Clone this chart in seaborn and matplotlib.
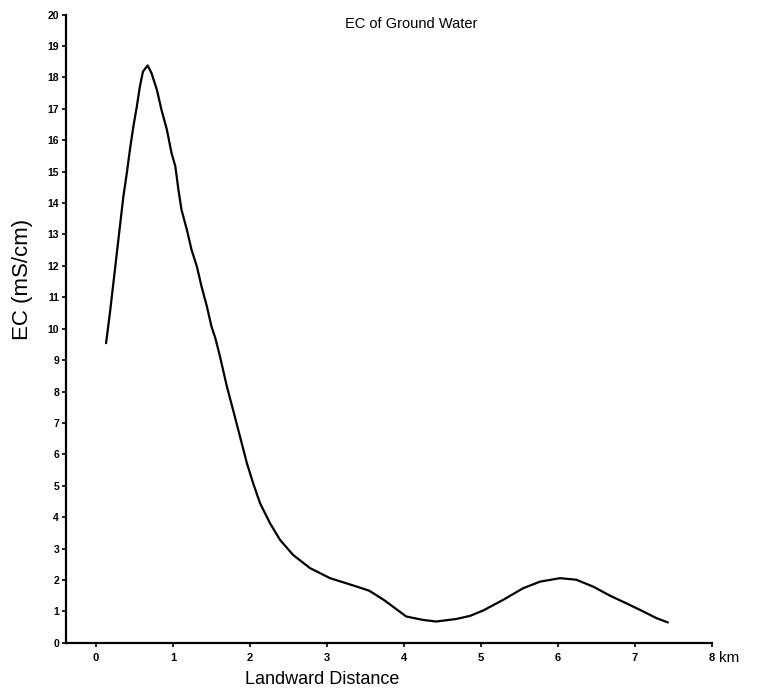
import matplotlib
matplotlib.use("Agg")
import matplotlib.pyplot as plt
import seaborn as sns
import pandas as pd

# Data
distance_km = [0.13, 0.18, 0.225, 0.27, 0.31, 0.355, 0.40, 0.44, 0.485, 0.53,
               0.57, 0.61, 0.67, 0.72, 0.79, 0.85, 0.92, 0.98, 1.03, 1.07,
               1.11, 1.18, 1.24, 1.31, 1.37, 1.44, 1.50, 1.55, 1.61, 1.70,
               1.78, 1.87, 1.96, 2.04, 2.13, 2.26, 2.39, 2.56, 2.78, 3.04,
               3.39, 3.55, 3.75, 4.03, 4.25, 4.42, 4.68, 4.86, 5.03, 5.29,
               5.55, 5.77, 6.03, 6.24, 6.46, 6.68, 6.89, 7.11, 7.28, 7.43]
ec_ms_cm = [9.54, 10.5, 11.45, 12.41, 13.26, 14.21, 14.96, 15.70, 16.44, 17.08,
            17.72, 18.19, 18.38, 18.14, 17.61, 16.97, 16.34, 15.60, 15.17, 14.43,
            13.79, 13.15, 12.52, 11.98, 11.35, 10.71, 10.07, 9.70, 9.12, 8.16,
            7.42, 6.57, 5.72, 5.09, 4.45, 3.81, 3.28, 2.80, 2.38, 2.06,
            1.79, 1.66, 1.35, 0.84, 0.73, 0.68, 0.76, 0.86, 1.03, 1.37,
            1.74, 1.95, 2.06, 2.01, 1.79, 1.50, 1.26, 1.00, 0.79, 0.65]
x_ticks = [0, 1, 2, 3, 4, 5, 6, 7, 8]
y_ticks = list(range(0, 21))
title_text = "EC of Ground Water"
x_label = "Landward Distance"
y_label = "EC (mS/cm)"
unit_label = "km"

df = pd.DataFrame({"distance": distance_km, "ec": ec_ms_cm})

sns.set_theme(style="ticks")
plt.rcParams["font.family"] = ["Liberation Sans", "DejaVu Sans"]

fig = plt.figure(figsize=(7.77, 6.95), dpi=100)
ax = fig.add_axes([0.085, 0.075, 0.831, 0.904])

sns.lineplot(data=df, x="distance", y="ec", ax=ax, color="black",
             linewidth=1.6, sort=False)

ax.set_xlim(-0.39, 8.0)
ax.set_ylim(0, 20)
ax.set_xticks(x_ticks)
ax.set_yticks(y_ticks)
ax.set_xticklabels([str(t) for t in x_ticks], fontsize=8, fontweight="bold")
ax.set_yticklabels([str(t) for t in y_ticks], fontsize=7.5, fontweight="bold")
ax.tick_params(axis="both", direction="out", length=3, width=1.2, color="black",
               labelcolor="black", pad=2)
ax.tick_params(axis="x", pad=4)

for side in ["top", "right"]:
    ax.spines[side].set_visible(False)
for side in ["left", "bottom"]:
    ax.spines[side].set_linewidth(1.6)
    ax.spines[side].set_color("black")

ax.set_xlabel("")
ax.set_ylabel("")
ax.text(0.534, 0.985, title_text, transform=ax.transAxes, ha="center",
        va="center", fontsize=10.5, color="black")
ax.text(0.396, -0.058, x_label, transform=ax.transAxes, ha="center",
        va="center", fontsize=13, color="black")
ax.text(-0.068, 0.578, y_label, transform=ax.transAxes, ha="center",
        va="center", fontsize=16, rotation=90, color="black")
ax.annotate(unit_label, xy=(8, 0), xycoords="data", xytext=(5, -11),
            textcoords="offset points", ha="left", va="center", fontsize=11,
            color="black")

fig.savefig("out.png", dpi=100, facecolor="white")
